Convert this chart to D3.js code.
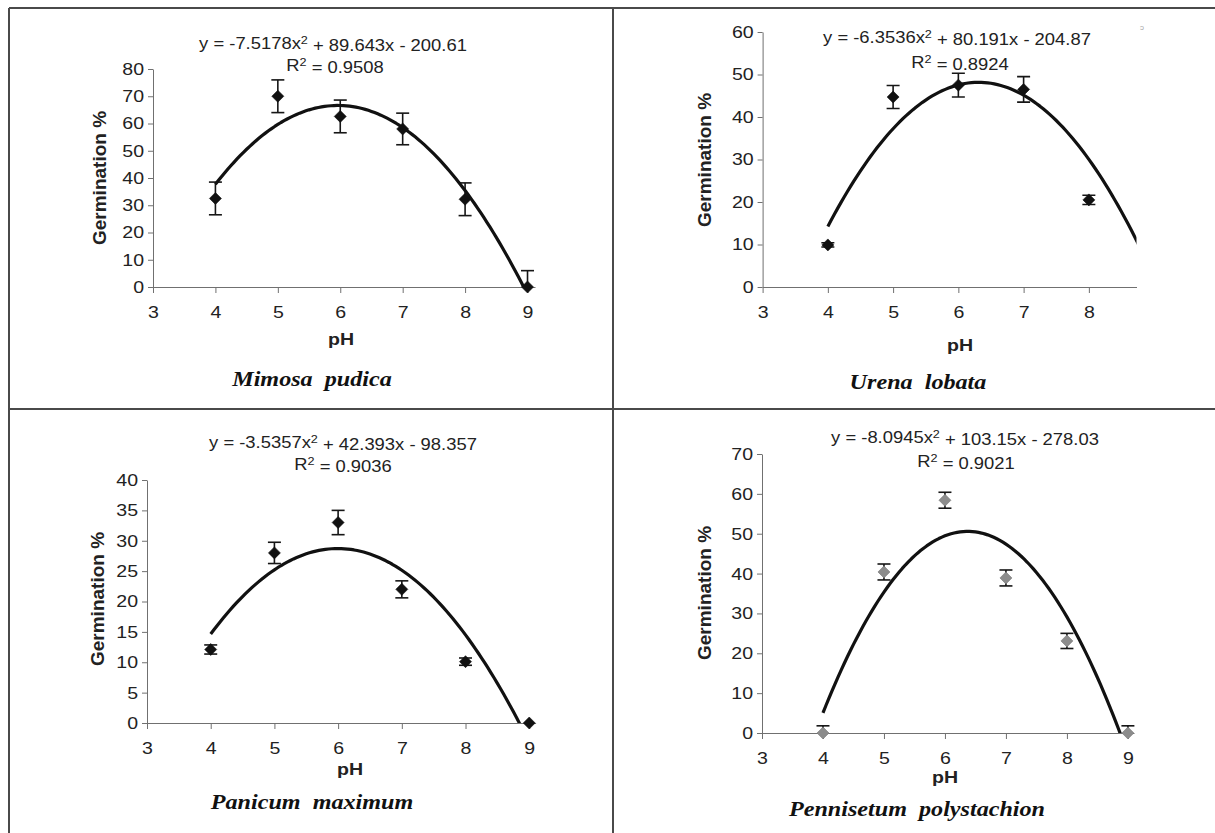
<!DOCTYPE html>
<html>
<head>
<meta charset="utf-8">
<title>Germination % vs pH</title>
<script src="https://d3js.org/d3.v7.min.js"></script>
<style>
  body { margin: 0; background: #fff; }
  svg { display: block; }
  .tick text { font-family: "Liberation Sans", Arial, sans-serif; font-size: 17px; fill: #222; }
  .domain, .tick line { stroke: #707070; }
</style>
</head>
<body>
<div id="chart"></div>
<script>
// pH levels tested
const phLevels = [4, 5, 6, 7, 8, 9];

// mean germination % and error
const mimosaMean  = [32.5, 70, 62.6, 58, 32.2, 0];
const mimosaErr   = [6, 6, 6, 5.8, 6, 6];
const urenaMean   = [9.9, 44.7, 47.5, 46.5, 20.5];
const urenaErr    = [0.5, 2.7, 2.8, 3, 1.1];
const panicumMean = [12.1, 28, 33, 22, 10.1, 0];
const panicumErr  = [0.75, 1.75, 2, 1.4, 0.6, 0];
const pennMean    = [0, 40.4, 58.4, 38.9, 23.1, 0];
const pennErr     = [1.8, 2, 2, 2, 1.9, 1.8];

// quadratic trend lines printed on each chart: [a, b, c] for y = ax² + bx + c
const mimosaCoef  = [-7.5178, 89.643, -200.61];
const urenaCoef   = [-6.3536, 80.191, -204.87];
const panicumCoef = [-3.5357, 42.393, -98.357];
const pennCoef    = [-8.0945, 103.15, -278.03];
const rSquared    = ['0.9508', '0.8924', '0.9036', '0.9021'];

const speciesNames = ['Mimosa  pudica', 'Urena  lobata', 'Panicum  maximum', 'Pennisetum  polystachion'];
const yMaxes  = [80, 60, 40, 70];
const ySteps  = [10, 10, 5, 10];
const xMaxes  = [9.12, 8.73, 9.1, 9.1];
const xTicks  = [[3,4,5,6,7,8,9], [3,4,5,6,7,8], [3,4,5,6,7,8,9], [3,4,5,6,7,8,9]];

const panels = [
  {mean: mimosaMean,  err: mimosaErr,  coef: mimosaCoef,  fill: '#111'},
  {mean: urenaMean,   err: urenaErr,   coef: urenaCoef,   fill: '#111'},
  {mean: panicumMean, err: panicumErr, coef: panicumCoef, fill: '#111'},
  {mean: pennMean,    err: pennErr,    coef: pennCoef,    fill: '#8c8c8c'}
];

// where each panel sits on the page
const layout = [
  {x0: 153,   x1: 535,    y0: 287, y1: 69,  eq: [333, 43],  r2: [335, 65],  ph: [341, 339], title: [312, 380], yTitle: [99, 178]},
  {x0: 762.6, x1: 1136.5, y0: 287, y1: 32,  eq: [957, 37],  r2: [960, 62],  ph: [960, 345], title: [918, 383], yTitle: [704, 160]},
  {x0: 147,   x1: 535.6,  y0: 723, y1: 480, eq: [343, 442], r2: [343, 464], ph: [350, 769], title: [312, 803], yTitle: [97, 599]},
  {x0: 762,   x1: 1134,   y0: 733, y1: 454, eq: [965, 437], r2: [966, 461], ph: [945, 777], title: [917, 810], yTitle: [704, 593]}
];

const W = 1215, H = 833;
const SX = 1.15; // the scanned figure is a bit wider than tall
const sans = '"Liberation Sans", Arial, sans-serif';
const serif = '"Liberation Serif", "Times New Roman", serif';

const svg = d3.select('#chart').append('svg')
  .attr('width', W)
  .attr('height', H);

svg.append('rect').attr('width', W).attr('height', H).attr('fill', '#fff');

// table grid
const grid = svg.append('g').attr('stroke', '#4a4a4a').attr('stroke-width', 2);
grid.append('line').attr('x1', 9).attr('x2', W).attr('y1', 8).attr('y2', 8);
grid.append('line').attr('x1', 9).attr('x2', W).attr('y1', 409).attr('y2', 409);
grid.append('line').attr('x1', 9).attr('x2', 9).attr('y1', 8).attr('y2', H);
grid.append('line').attr('x1', 613).attr('x2', 613).attr('y1', 8).attr('y2', H);

function stretch(sel) {
  sel.attr('transform', function () {
    const x = +this.getAttribute('x') || 0;
    const y = +this.getAttribute('y') || 0;
    return `translate(${x},${y}) scale(${SX},1) translate(${-x},${-y})`;
  });
}

function fmt(v) { return String(Math.abs(v)); }

panels.forEach((p, i) => {
  const L = layout[i];
  const g = svg.append('g');

  const x = d3.scaleLinear().domain([3, xMaxes[i]]).range([L.x0, L.x1]);
  const y = d3.scaleLinear().domain([0, yMaxes[i]]).range([L.y0, L.y1]);

  // axes
  const xAxis = g.append('g')
    .attr('transform', `translate(0,${L.y0})`)
    .call(d3.axisBottom(x).tickValues(xTicks[i]).tickFormat(d3.format('d'))
      .tickSize(6).tickSizeOuter(0).tickPadding(13));
  const yAxis = g.append('g')
    .attr('transform', `translate(${L.x0},0)`)
    .call(d3.axisLeft(y).tickValues(d3.range(0, yMaxes[i] + 0.01, ySteps[i]))
      .tickSize(5).tickSizeOuter(0).tickPadding(4));
  xAxis.selectAll('.tick text').call(stretch);
  yAxis.selectAll('.tick text').call(stretch);

  // clip regions
  const clipTrend = 'clipT' + i, clipBar = 'clipB' + i;
  svg.append('clipPath').attr('id', clipTrend).append('rect')
    .attr('x', L.x0).attr('y', L.y1 - 30).attr('width', L.x1 - L.x0).attr('height', L.y0 - L.y1 + 30);
  svg.append('clipPath').attr('id', clipBar).append('rect')
    .attr('x', L.x0 - 20).attr('y', L.y1 - 30).attr('width', L.x1 - L.x0 + 40).attr('height', L.y0 - L.y1 + 30);

  const pts = p.mean.map((m, k) => ({ph: phLevels[k], m, e: p.err[k]}));

  // error bars
  const bars = g.append('g').attr('clip-path', `url(#${clipBar})`)
    .attr('stroke', '#161616').attr('stroke-width', 1.6);
  pts.filter(d => d.e > 0).forEach(d => {
    const cx = x(d.ph), top = y(d.m + d.e), bot = y(d.m - d.e);
    bars.append('line').attr('x1', cx).attr('x2', cx).attr('y1', top).attr('y2', bot);
    bars.append('line').attr('x1', cx - 6.5).attr('x2', cx + 6.5).attr('y1', top).attr('y2', top);
    bars.append('line').attr('x1', cx - 6.5).attr('x2', cx + 6.5).attr('y1', bot).attr('y2', bot);
  });

  // diamond markers
  g.selectAll('path.pt').data(pts).join('path')
    .attr('class', 'pt')
    .attr('d', 'M0,-6L6,0L0,6L-6,0Z')
    .attr('transform', d => `translate(${x(d.ph)},${y(d.m)})`)
    .attr('fill', p.fill)
    .attr('stroke', i === 3 ? '#777' : '#111')
    .attr('stroke-width', 0.6);

  // polynomial trend line
  const [a, b, c] = p.coef;
  const curve = d3.range(4, 9.0001, 0.05).map(v => [v, a * v * v + b * v + c]);
  g.append('path')
    .datum(curve)
    .attr('clip-path', `url(#${clipTrend})`)
    .attr('fill', 'none')
    .attr('stroke', '#111')
    .attr('stroke-width', 3.2)
    .attr('stroke-linejoin', 'round')
    .attr('d', d3.line().x(d => x(d[0])).y(d => y(Math.max(d[1], -3))));

  // equation and R²
  const eq = g.append('text')
    .attr('x', L.eq[0]).attr('y', L.eq[1]).attr('dy', '0.36em')
    .attr('text-anchor', 'middle')
    .style('font-family', sans).style('font-size', '16px').attr('fill', '#222');
  eq.append('tspan').text(`y = ${a}x`);
  eq.append('tspan').attr('dy', '-0.45em').style('font-size', '11px').text('2');
  eq.append('tspan').attr('dy', '0.45em').text(` + ${b}x - ${fmt(c)}`);
  eq.call(stretch);

  const r2 = g.append('text')
    .attr('x', L.r2[0]).attr('y', L.r2[1]).attr('dy', '0.36em')
    .attr('text-anchor', 'middle')
    .style('font-family', sans).style('font-size', '16px').attr('fill', '#222');
  r2.append('tspan').text('R');
  r2.append('tspan').attr('dy', '-0.45em').style('font-size', '11px').text('2');
  r2.append('tspan').attr('dy', '0.45em').text(` = ${rSquared[i]}`);
  r2.call(stretch);

  // axis titles
  g.append('text')
    .attr('x', L.ph[0]).attr('y', L.ph[1]).attr('dy', '0.36em')
    .attr('text-anchor', 'middle')
    .style('font-family', sans).style('font-size', '17px').style('font-weight', 'bold')
    .attr('fill', '#222')
    .text('pH')
    .call(stretch);

  g.append('text')
    .attr('transform', `translate(${L.yTitle[0]},${L.yTitle[1]}) rotate(-90)`)
    .attr('dy', '0.36em')
    .attr('text-anchor', 'middle')
    .style('font-family', sans).style('font-size', '19px').style('font-weight', 'bold')
    .attr('fill', '#222')
    .text('Germination %');

  // species name
  g.append('text')
    .attr('x', L.title[0]).attr('y', L.title[1]).attr('dy', '0.3em')
    .attr('text-anchor', 'middle')
    .style('font-family', serif).style('font-size', '21px')
    .style('font-weight', 'bold').style('font-style', 'italic')
    .style('white-space', 'pre')
    .attr('fill', '#111')
    .text(speciesNames[i])
    .call(stretch);
});

// stray speck in the scan, top right
svg.append('text').attr('x', 1140).attr('y', 30)
  .style('font-family', sans).style('font-size', '8px').attr('fill', '#aaa').text('ɔ');
</script>
</body>
</html>
